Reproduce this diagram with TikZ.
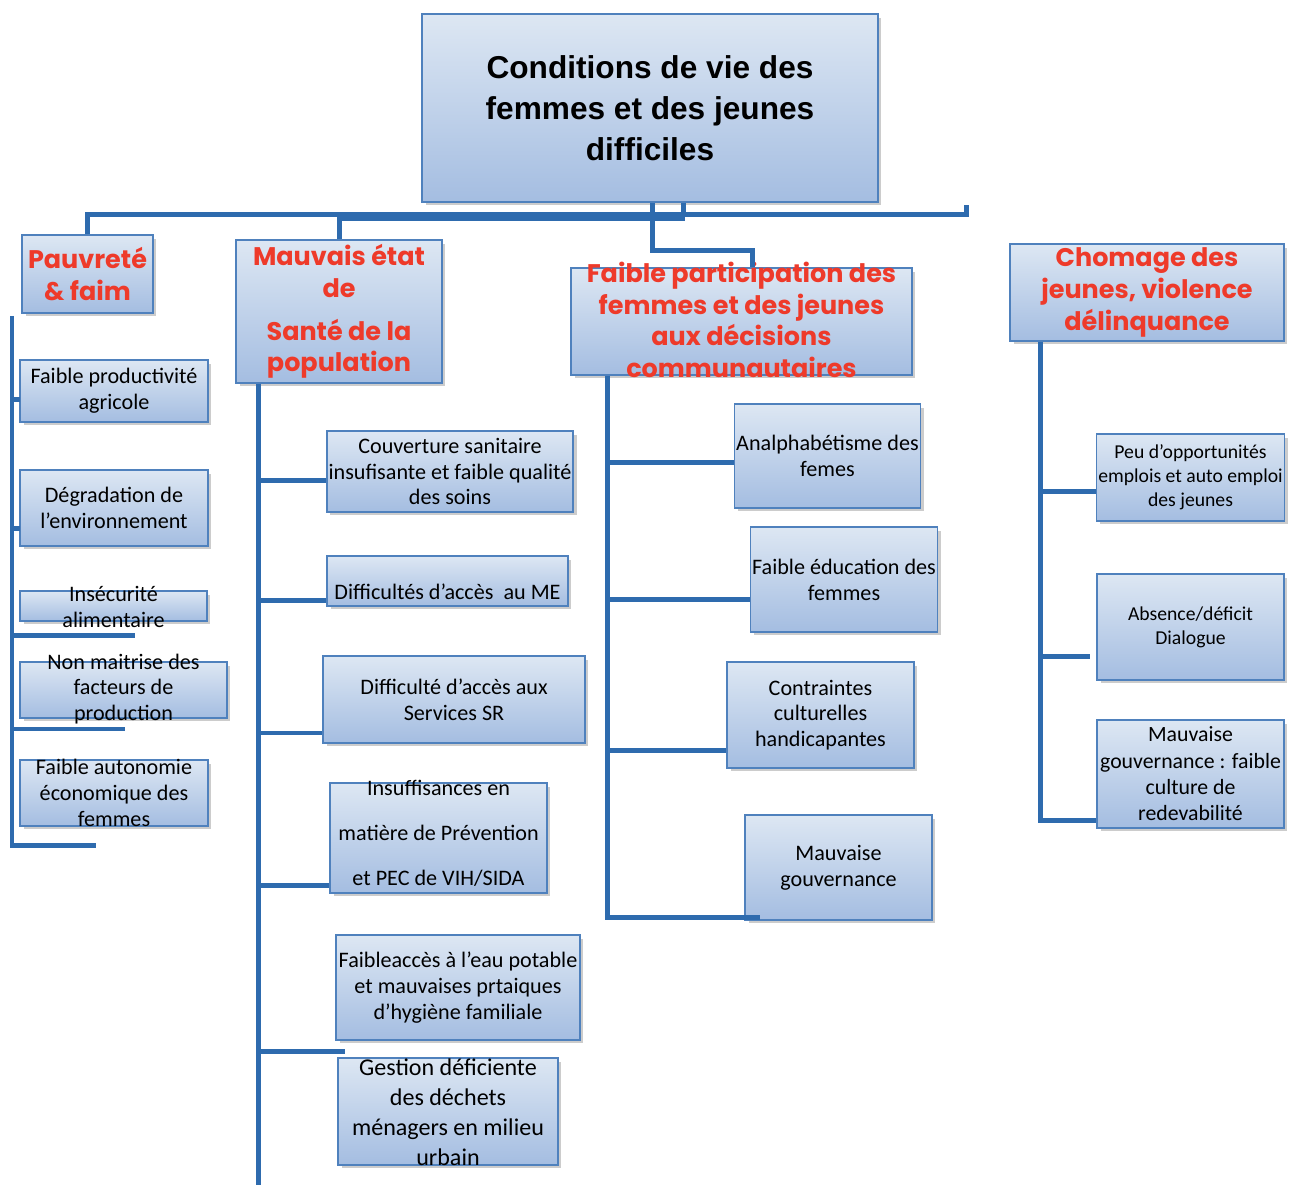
\documentclass[tikz,border=0pt]{standalone}
\usepackage{fontspec}
\setmainfont{Carlito}
\newfontfamily\titlefont{Liberation Sans}
\newfontfamily\headfont{Poppins}
\usetikzlibrary{shadows}

\definecolor{boxtop}{HTML}{DDE7F3}
\definecolor{boxbot}{HTML}{A4BDE1}
\definecolor{boxline}{HTML}{4F81BD}
\definecolor{linkblue}{HTML}{2E6BAE}
\definecolor{headred}{HTML}{EE3A2A}

\tikzset{
  box/.style={draw=boxline, thick, top color=boxtop, bottom color=boxbot,
    align=center, inner sep=1pt,
    drop shadow={shadow xshift=0.07cm, shadow yshift=-0.07cm, opacity=0.4},
    font=\fontsize{12.6}{14.7}\selectfont},
  small/.style={font=\fontsize{11.2}{13.6}\selectfont},
  title/.style={font=\titlefont\bfseries\fontsize{18}{23.3}\selectfont},
  head/.style={box, text=headred, font=\headfont\bfseries\fontsize{14.5}{18}\selectfont},
  headtxt/.style={align=center, inner sep=0pt, text=headred,
    font=\headfont\bfseries\fontsize{14.5}{18}\selectfont},
  txt/.style={align=center, inner sep=0pt, font=\fontsize{12.6}{14.7}\selectfont},
  link/.style={draw=linkblue, line width=0.1cm},
}

\begin{document}
\begin{tikzpicture}[x=0.02cm, y=-0.02cm]
\useasboundingbox (0,0) rectangle (1292,1185);

% main problem
\node[box, title, minimum width=9.12cm, minimum height=3.76cm] (t) at (650,108)
  {Conditions de vie des\\femmes et des jeunes\\difficiles};

% causes
\node[head, minimum width=2.62cm, minimum height=1.56cm] (p) at (87.5,274) {Pauvreté\\\& faim};
\node[head, minimum width=4.12cm, minimum height=2.86cm] (m) at (339,311.5)
  {Mauvais état\\de\\[0.22cm]Santé de la\\population};
\node[head, minimum width=6.82cm, minimum height=2.14cm] (f) at (741.5,321.5) {};
\node[headtxt] (ft) at (741.5,320)
  {Faible participation des\\femmes et des jeunes\\aux décisions\\communautaires};
\node[head, minimum width=5.48cm, minimum height=1.94cm] (c) at (1147,292.5)
  {Chomage des\\jeunes, violence\\délinquance};

% pauvrete
\node[box, minimum width=3.76cm, minimum height=1.24cm] (l1) at (114,391) {Faible productivité\\agricole};
\node[box, minimum width=3.76cm, minimum height=1.52cm] (l2) at (114,508) {Dégradation de\\l'environnement};
\node[box, minimum width=3.74cm, minimum height=0.6cm] (l3) at (113.5,606) {};
\node[txt] (l3t) at (113.5,607) {Insécurité\\alimentaire};
\node[box, minimum width=4.14cm, minimum height=1.12cm] (l4) at (123.5,690) {};
\node[txt] (l4t) at (123.5,689) {Non maitrise des\\facteurs de\\production};
\node[box, minimum width=3.76cm, minimum height=1.32cm] (l5) at (114,793) {};
\node[txt] (l5t) at (114,793) {Faible autonomie\\économique des\\femmes};

% sante
\node[box, minimum width=4.92cm, minimum height=1.62cm] (m1) at (450,471.5)
  {Couverture sanitaire\\insufisante et faible qualité\\des soins};
\node[box, minimum width=4.82cm, minimum height=1.0cm] (m2) at (447.5,581) {};
\node[txt] (m2t) at (447.5,592) {Difficultés d'accès \ au ME};
\node[box, minimum width=5.24cm, minimum height=1.74cm] (m3) at (454,699.5)
  {Difficulté d'accès aux\\Services SR};
\node[box, minimum width=4.34cm, minimum height=2.2cm] (m4) at (438.5,838) {};
\node[txt] (m4t) at (438.5,833)
  {Insuffisances en\\[0.38cm]matière de Prévention\\[0.38cm]et PEC de VIH/SIDA};
\node[box, minimum width=4.88cm, minimum height=2.1cm] (m5) at (458,987.5)
  {Faibleaccès à l'eau potable\\et mauvaises prtaiques\\d'hygiène familiale};
\node[box, minimum width=4.4cm, minimum height=2.14cm] (m6) at (448,1111.5) {};
\node[txt, font=\fontsize{13.7}{17}\selectfont] (m6t) at (448,1112)
  {Gestion déficiente\\des déchets\\ménagers en milieu\\urbain};

% participation
\node[box, minimum width=3.7cm, minimum height=2.08cm] (f1) at (827.5,456) {Analphabétisme des\\femes};
\node[box, minimum width=3.72cm, minimum height=2.1cm] (f2) at (844,579.5) {Faible éducation des\\femmes};
\node[box, minimum width=3.74cm, minimum height=2.12cm] (f3) at (820.5,715) {Contraintes\\culturelles\\handicapantes};
\node[box, minimum width=3.74cm, minimum height=2.1cm] (f4) at (838.5,867.5) {Mauvaise\\gouvernance};

% chomage
\node[box, small, minimum width=3.74cm, minimum height=1.74cm] (c1) at (1190.5,477.5)
  {Peu d'opportunités\\emplois et auto emploi\\des jeunes};
\node[box, small, minimum width=3.74cm, minimum height=2.12cm] (c2) at (1190.5,627) {Absence/déficit\\Dialogue};
\node[box, font=\fontsize{12.4}{15}\selectfont, minimum width=3.74cm, minimum height=2.16cm] (c3) at (1190.5,774)
  {Mauvaise\\gouvernance : faible\\culture de\\redevabilité};

% top bar
\coordinate (bar) at (0,215);
\coordinate (rtick) at (966,205);
\coordinate (j1) at (683,217);
\coordinate (j2) at (652,251);
\draw[link] (p.north) -- (p.north |- bar) -- (bar -| rtick) -- (rtick);
\draw[link] (m.north) -- (m.north |- bar);
\draw[link, line width=0.18cm] (m.north |- j1) -- ([xshift=0.04cm]j1);
\draw[link] (t.south -| j1) -- (j1);
\draw[link] (t.south -| j2) -- (j2) -| ([xshift=0.21cm]f.north);

% left column
\coordinate (ltop) at (12,316);
\coordinate (lend) at (96,845);
\draw[link] (ltop) |- (lend);
\foreach \y/\len in {400/8, 529/8, 636/123, 729/113}
  \draw[link] (ltop |- 0,\y) -- ++(\len,0);

% sante column
\coordinate (mend) at (258,1185);
\draw[link] (mend |- m.south) -- (mend);
\foreach \n/\y in {m1/481, m2/601, m3/733, m4/885}
  \draw[link] (mend |- 0,\y) -- (\n.west |- 0,\y);
\draw[link] (mend |- 0,1051) -- ++(87,0);

% participation column
\coordinate (fcorner) at (607,917);
\coordinate (fend) at (760,917);
\draw[link] (fcorner |- f.south) -- (fcorner) -- (fend);
\foreach \n/\y in {f1/463, f2/600, f3/750}
  \draw[link] (fcorner |- 0,\y) -- (\n.west |- 0,\y);

% chomage column
\coordinate (ccorner) at (1040,820);
\draw[link] (ccorner |- c.south) -- (ccorner) -- (c3.west |- ccorner);
\draw[link] (ccorner |- 0,492) -- (c1.west |- 0,492);
\draw[link] (ccorner |- 0,657) -- ++(50,0);

\end{tikzpicture}
\end{document}
